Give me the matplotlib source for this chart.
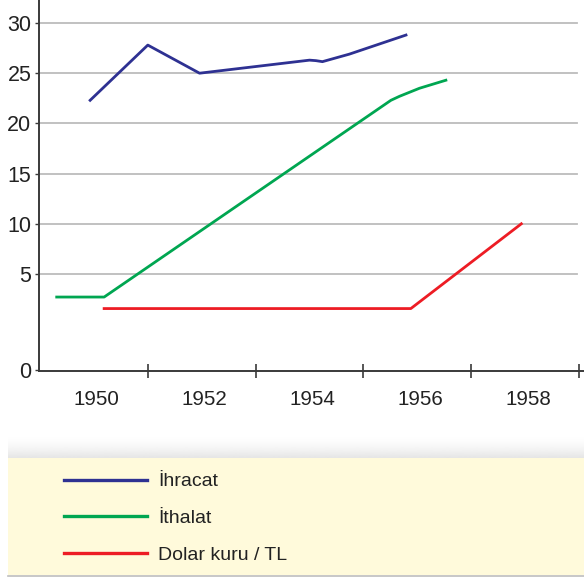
import numpy as np
import matplotlib
matplotlib.use('Agg')
import matplotlib.pyplot as plt
import matplotlib.transforms as mtransforms
from matplotlib.patches import Rectangle

plt.rcParams['font.family'] = ['Liberation Sans', 'DejaVu Sans']

# ---- data ----
years_ihracat = [1949.93, 1951.0, 1951.96, 1954.0, 1954.12, 1954.24, 1954.74, 1955.79]
ihracat = [22.3, 27.8, 25.0, 26.3, 26.25, 26.15, 26.9, 28.8]

years_ithalat = [1949.31, 1950.19, 1955.51, 1955.67, 1956.04, 1956.53]
ithalat = [3.8, 3.8, 22.3, 22.7, 23.5, 24.3]

years_dolar = [1950.19, 1955.88, 1957.93]
dolar = [3.2, 3.2, 10.0]

series_labels = ['İhracat', 'İthalat', 'Dolar kuru / TL']
series_colors = ['#2e3192', '#00a651', '#ed1c24']

year_labels = [1950, 1952, 1954, 1956, 1958]
year_ticks = [1951, 1953, 1955, 1957, 1959]
y_ticks = [0, 5, 10, 15, 20, 25, 30]

# ---- y scale: 0-5 drawn with a different step than 5-30 ----
LOW = 96 / 5.0
HIGH = 10.04


def fwd(v):
    v = np.asarray(v, dtype=float)
    return np.where(v <= 5, v * LOW, 5 * LOW + (v - 5) * HIGH)


def inv(u):
    u = np.asarray(u, dtype=float)
    return np.where(u <= 5 * LOW, u / LOW, 5 + (u - 5 * LOW) / HIGH)


W, H = 584, 579
fig = plt.figure(figsize=(W / 100, H / 100), dpi=100)
fig.patch.set_facecolor('white')

ax = fig.add_axes([39 / W, (H - 371) / H, (W - 39) / W, 371 / H])
ax.set_yscale('function', functions=(fwd, inv))
ax.set_xlim(1949 - 1 / 54, 1949 + 545 / 54)
ax.set_ylim(float(inv(-1.0)), float(inv(370.0)))
ax.patch.set_alpha(0)

for v in y_ticks[1:]:
    ax.axhline(v, xmin=0, xmax=(577 - 39) / 545, color='#bcbcbc', lw=1.3, zorder=1)

lines = []
for xs, ys, c, lab in zip([years_ihracat, years_ithalat, years_dolar],
                          [ihracat, ithalat, dolar], series_colors, series_labels):
    ln, = ax.plot(xs, ys, color=c, lw=2.0, label=lab, zorder=3)
    lines.append(ln)

for s in ['top', 'right']:
    ax.spines[s].set_visible(False)
for s in ['left', 'bottom']:
    ax.spines[s].set_color('#3a3a3a')
    ax.spines[s].set_linewidth(1.4)

ax.set_xticks(year_ticks)
ax.set_xticklabels([])
ax.tick_params(axis='x', which='major', direction='inout', length=10, width=1.2, color='#3a3a3a')
ax.set_xticks(year_labels, minor=True)
ax.set_xticklabels([str(y) for y in year_labels], minor=True)
ax.tick_params(axis='x', which='minor', length=0, pad=13.5, labelsize=14.8, labelcolor='#222222')
shift = mtransforms.ScaledTranslation(3 / 100, 0, fig.dpi_scale_trans)
for lbl in ax.xaxis.get_minorticklabels():
    lbl.set_transform(lbl.get_transform() + shift)

ax.set_yticks(y_ticks)
ax.set_yticklabels([str(v) for v in y_ticks])
ax.tick_params(axis='y', which='major', length=3, width=1.0, color='#3a3a3a', pad=2.5,
               labelsize=15.5, labelcolor='#222222')
ax.yaxis.set_minor_locator(matplotlib.ticker.NullLocator())

# ---- legend panel ----
pan = fig.add_axes([0, 0, 1, 1], zorder=-1)
pan.set_xlim(0, W)
pan.set_ylim(H, 0)
pan.axis('off')
shadow = np.ones((64, 1, 4))
shadow[..., :3] = 0.80
shadow[:, 0, 3] = 0.5 * (np.linspace(0, 1, 64) ** 1.6)
pan.imshow(shadow, extent=(8, W, 458, 436), aspect='auto', interpolation='bilinear')
pan.add_patch(Rectangle((8, 458), W - 8, 117, facecolor='#fffadb', edgecolor='none'))
pan.plot([8, W], [575.5, 575.5], color='#bdbdbd', lw=1.2)

leg = fig.legend(handles=lines, labels=series_labels, loc='upper left',
                 bbox_to_anchor=(58 / W, (H - 467) / H), frameon=False,
                 fontsize=14, handlelength=4.3, handletextpad=0.55,
                 labelspacing=0.98, borderaxespad=0, borderpad=0.3)
for t in leg.get_texts():
    t.set_color('#222222')
for h in leg.get_lines():
    h.set_linewidth(2.4)

fig.savefig('out.png', dpi=100)
